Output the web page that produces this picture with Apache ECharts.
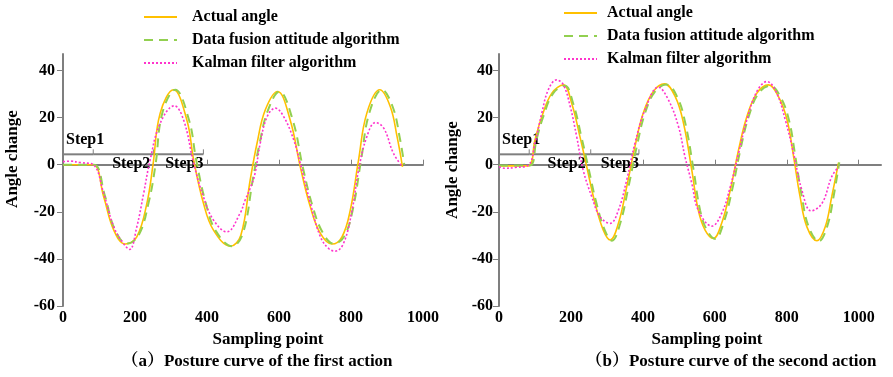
<!DOCTYPE html>
<html>
<head>
<meta charset="utf-8">
<script src="https://cdn.jsdelivr.net/npm/echarts@6/dist/echarts.min.js"></script>
<style>
  html, body { margin: 0; padding: 0; background: #fff; }
  #chart { width: 893px; height: 377px; }
</style>
</head>
<body>
<div id="chart"></div>
<script>
// series names
const seriesNames = ['Actual angle', 'Data fusion attitude algorithm', 'Kalman filter algorithm']

// (a) first action, [sampling point, angle]
const actualA = [[0,0],[40,0],[84,0],[113,-13.6],[141,-27.8],[173,-33.7],[205,-30.6],[233,-16.4],[250,0],[270,21.9],[307,31.8],[344,19],[363,2],[390,-16.3],[418,-27.8],[465,-34.6],[494,-30],[520,-6.5],[539,9.1],[562,23.3],[596,31.1],[631,19],[659,-0.8],[687,-17.9],[715,-29.2],[747,-33.7],[775,-30.6],[798,-19.3],[821,2],[844,21.9],[880,31.8],[909,24.7],[928,11.9],[943,-0.9]]
const fusionA = [[0,0],[40,0],[86,0],[116,-13],[144,-27.5],[178,-33.5],[210,-30],[238,-16],[257,0],[276,22],[312,31.8],[350,19],[370,2],[396,-16],[424,-28],[470,-34.6],[500,-29],[527,-6.5],[546,9],[569,23],[601,31],[638,19],[666,-1],[694,-18],[722,-29],[752,-33.5],[781,-30.5],[805,-19],[828,2],[851,22],[886,31.8],[916,24.5],[936,11],[948,0]]
const kalmanA = [[0,1.3],[20,1.5],[48,0.9],[84,0],[113,-12.2],[141,-26.4],[168,-33.5],[185,-36],[205,-26.4],[224,-12.2],[242,2],[270,17.6],[309,25],[335,19],[363,0.6],[390,-13.6],[418,-23.5],[455,-28.5],[492,-20.6],[506,-15],[520,-10],[533,-4],[548,9.2],[567,20.4],[590,24],[613,20.4],[641,10.5],[659,0.6],[687,-16.3],[715,-30.6],[738,-35.6],[756,-36.7],[779,-33.5],[803,-19.3],[821,-2.3],[844,11.9],[868,17.9],[891,15.5],[918,4.8],[943,-0.9]]

// (b) second action
const actualB = [[0,-0.5],[40,-0.5],[82,-0.5],[100,10.5],[119,20.4],[147,30.4],[179,33.9],[202,26.1],[225,11.9],[244,-0.9],[267,-16.4],[290,-27.8],[309,-32],[332,-24.9],[355,-9.4],[378,7.7],[401,21.9],[429,31.1],[460,34.3],[490,28.9],[513,17.6],[536,-2.3],[554,-19.3],[573,-27.8],[596,-31.3],[619,-24.9],[643,-10.8],[666,6.3],[689,20.4],[717,30.4],[749,33.9],[777,28.9],[801,19],[819,3.4],[837,-13.6],[856,-26.4],[884,-32.3],[907,-26.4],[925,-13.6],[944,0.9]]
const fusionB = [[0,-0.3],[40,-0.3],[86,-0.3],[104,10.5],[123,20.4],[151,30.4],[183,33.5],[206,26.1],[229,11.9],[248,-0.9],[271,-16.4],[294,-27.8],[314,-32.3],[337,-24.9],[360,-9.4],[383,7.7],[406,21.9],[434,31.1],[465,34],[495,28.9],[518,17.6],[541,-2.3],[559,-19.3],[578,-27.8],[601,-31.5],[624,-24.9],[648,-10.8],[671,6.3],[694,20.4],[722,30.4],[754,33.5],[782,28.9],[806,19],[824,3.4],[842,-13.6],[861,-26.4],[889,-32.5],[912,-26.4],[930,-13.6],[946,1]]
const kalmanB = [[0,-0.9],[17,-1.5],[45,-1.2],[82,-0.1],[100,9.1],[119,21.9],[137,31.8],[160,36],[179,33.9],[198,24.7],[216,11.9],[234,-2.3],[258,-13.6],[281,-22.1],[309,-24.9],[332,-19.3],[355,-6.5],[378,9.1],[406,23.3],[443,32.9],[471,27.5],[499,16.2],[517,3.4],[536,-7.9],[554,-19.3],[592,-26.1],[619,-20.7],[643,-9.4],[666,4.8],[689,19],[717,31.1],[745,35.3],[772,30.4],[796,19],[819,4.8],[842,-10.8],[868,-19.6],[898,-16.4],[925,-5.1],[944,-0.9]]

// step annotation
const stepNames = ['Step1', 'Step2', 'Step3']
const stepBoundsA = [0, 84, 251, 390]
const stepBoundsB = [0, 84, 255, 389]
const stepLevel = 4.4

// ticks
const xTicks = [0, 200, 400, 600, 800, 1000]
const yTicks = [-60, -40, -20, 0, 20, 40]

const FONT = '"Liberation Serif", "Times New Roman", "Noto Serif CJK SC", "Noto Sans CJK SC", serif'
const AXIS_GRAY = '#7f7f7f'
const COLORS = ['#ffc000', '#92d050', '#ff33cc']

const chart = echarts.init(document.getElementById('chart'))

const makeX = (gridIndex, max) => ({
  type: 'value',
  gridIndex,
  min: 0,
  max,
  splitLine: { show: false },
  axisLine: { lineStyle: { color: AXIS_GRAY, width: 2 } },
  axisTick: { inside: true, length: 5, customValues: xTicks, lineStyle: { color: AXIS_GRAY } },
  axisLabel: {
    customValues: xTicks,
    formatter: v => String(v),
    color: '#000', fontFamily: FONT, fontWeight: 'bold', fontSize: 16, margin: 4
  }
})

const makeY = (gridIndex, margin) => ({
  type: 'value',
  gridIndex,
  min: -60,
  max: 47,
  splitLine: { show: false },
  axisLine: { show: true, lineStyle: { color: AXIS_GRAY, width: 2 } },
  axisTick: { show: true, length: 6, customValues: yTicks, lineStyle: { color: AXIS_GRAY } },
  axisLabel: {
    customValues: yTicks,
    color: '#000', fontFamily: FONT, fontWeight: 'bold', fontSize: 16, margin
  }
})

const lineSeries = (idx, data, i) => ({
  name: seriesNames[i],
  type: 'line',
  xAxisIndex: idx,
  yAxisIndex: idx,
  data,
  smooth: 0.4,
  symbol: 'none',
  itemStyle: { color: COLORS[i] },
  lineStyle: [
    { width: 1.6, color: COLORS[0] },
    { width: 2, color: COLORS[1], type: [9, 6] },
    { width: 1.6, color: COLORS[2], type: [2, 2] }
  ][i],
  z: 2 + i
})

// step bar drawn through the axis scale
const stepSeries = (idx, bounds, step2Shift) => ({
  type: 'custom',
  xAxisIndex: idx,
  yAxisIndex: idx,
  silent: true,
  data: stepNames.map((n, i) => [bounds[i], bounds[i + 1], i]),
  renderItem: (params, api) => {
    const i = api.value(2)
    const p0 = api.coord([api.value(0), stepLevel])
    const p1 = api.coord([api.value(1), stepLevel])
    const textStyle = {
      text: stepNames[i], fontFamily: FONT, fontWeight: 'bold', fontSize: 16, fill: '#000'
    }
    let label
    if (i === 0) {
      label = { type: 'text', style: { ...textStyle, x: p0[0] + 3, y: p0[1] - 14, align: 'left', verticalAlign: 'middle' } }
    } else {
      const shift = i === 1 ? step2Shift : 0
      label = { type: 'text', style: { ...textStyle, x: p1[0] - shift, y: p1[1] + 10, align: 'right', verticalAlign: 'middle' } }
    }
    return {
      type: 'group',
      children: [
        { type: 'line', shape: { x1: p0[0], y1: p0[1], x2: p1[0], y2: p1[1] }, style: { stroke: AXIS_GRAY, lineWidth: 2 } },
        { type: 'line', shape: { x1: p1[0], y1: p1[1], x2: p1[0], y2: p1[1] - 5 }, style: { stroke: AXIS_GRAY, lineWidth: 1 } },
        label
      ]
    }
  },
  z: 1
})

const legendBase = {
  orient: 'vertical',
  itemWidth: 33,
  itemHeight: 14,
  itemGap: 7,
  data: seriesNames,
  itemStyle: { opacity: 0 },
  textStyle: { fontFamily: FONT, fontWeight: 'bold', fontSize: 16, color: '#000', lineHeight: 16 }
}

const boldText = (text, x, y, extra) => ({
  type: 'text',
  x, y,
  style: { text, fontFamily: FONT, fontWeight: 'bold', fontSize: 17, fill: '#000', align: 'center', verticalAlign: 'middle', ...extra }
})

const option = {
  animation: false,
  grid: [
    { left: 63, top: 54, width: 360, height: 252 },
    { left: 499, top: 54, width: 382, height: 252 }
  ],
  xAxis: [makeX(0, 1000), makeX(1, 1062)],
  yAxis: [makeY(0, 8), makeY(1, 6)],
  legend: [
    { ...legendBase, left: 138, top: 4, textStyle: { ...legendBase.textStyle, padding: [0, 0, 0, 10] } },
    { ...legendBase, left: 558, top: 0, textStyle: { ...legendBase.textStyle, padding: [0, 0, 0, 5] } }
  ],
  graphic: [
    boldText('Angle change', 13, 159, { fontSize: 17 }),
    boldText('Angle change', 453, 170, { fontSize: 17 }),
    boldText('Sampling point', 268, 340),
    boldText('Sampling point', 707, 340),
    boldText('（a）Posture curve of the first action', 257, 362),
    boldText('（b）Posture curve of the second action', 731, 362)
  ],
  series: [
    stepSeries(0, stepBoundsA, 3),
    lineSeries(0, actualA, 0),
    lineSeries(0, fusionA, 1),
    lineSeries(0, kalmanA, 2),
    stepSeries(1, stepBoundsB, 5),
    lineSeries(1, actualB, 0),
    lineSeries(1, fusionB, 1),
    lineSeries(1, kalmanB, 2)
  ]
}

// rotate the y axis names
option.graphic[0].rotation = Math.PI / 2
option.graphic[1].rotation = Math.PI / 2

chart.setOption(option)
window.addEventListener('resize', () => chart.resize())
</script>
</body>
</html>
